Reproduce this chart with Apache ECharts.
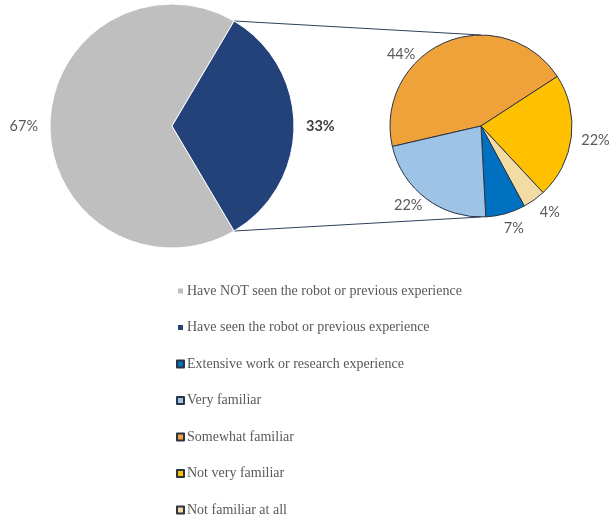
<!DOCTYPE html>
<html>
<head>
<meta charset="utf-8">
<script src="https://cdn.jsdelivr.net/npm/echarts@6/dist/echarts.min.js"></script>
<style>
  html, body { margin: 0; padding: 0; background: #fff; }
  #chart { width: 609px; height: 518px; }
</style>
</head>
<body>
<div id="chart"></div>
<script>
// main pie
const mainNames = ['Have NOT seen the robot or previous experience', 'Have seen the robot or previous experience'];
const mainValues = [67, 33];

// breakdown of "have seen"
const subNames = ['Somewhat familiar', 'Not very familiar', 'Not familiar at all', 'Extensive work or research experience', 'Very familiar'];
const subValues = [44, 22, 4, 7, 22];

const legendOrder = [
  'Have NOT seen the robot or previous experience',
  'Have seen the robot or previous experience',
  'Extensive work or research experience',
  'Very familiar',
  'Somewhat familiar',
  'Not very familiar',
  'Not familiar at all'
];

const colorMap = {
  'Have NOT seen the robot or previous experience': '#BFBFBF',
  'Have seen the robot or previous experience': '#24427A',
  'Extensive work or research experience': '#0070C0',
  'Very familiar': '#9DC3E6',
  'Somewhat familiar': '#EFA23A',
  'Not very familiar': '#FFC000',
  'Not familiar at all': '#F3DCA4'
};

// nudges to mimic excel's best-fit label placement
const labelNudge = {
  'Somewhat familiar': [-22, 19],
  'Not very familiar': [-3, 2],
  'Not familiar at all': [-4, 6],
  'Extensive work or research experience': [-9, 7],
  'Very familiar': [6, 0]
};

const main = { cx: 172, cy: 126, r: 122 };
const sub = { cx: 481, cy: 126, r: 91 };

// blue slice is centred on the right side
const halfAngle = mainValues[1] / (mainValues[0] + mainValues[1]) * 180;
const mainStart = 360 - halfAngle;

const chart = echarts.init(document.getElementById('chart'));

const rad = a => a * Math.PI / 180;
const topPt = [main.cx + main.r * Math.cos(rad(halfAngle)), main.cy - main.r * Math.sin(rad(halfAngle))];
const botPt = [main.cx + main.r * Math.cos(rad(halfAngle)), main.cy + main.r * Math.sin(rad(halfAngle))];

const labelFont = { fontFamily: 'Lato', fontSize: 14.5, color: '#595959' };

chart.setOption({
  animation: false,
  color: legendOrder.map(n => colorMap[n]),
  legend: {
    orient: 'vertical',
    left: 171,
    top: 279,
    height: 260,
    data: legendOrder,
    icon: 'rect',
    itemWidth: 7,
    itemHeight: 7,
    itemGap: 22.5,
    selectedMode: false,
    textStyle: {
      fontFamily: 'Liberation Serif',
      fontSize: 14,
      color: '#595959',
      lineHeight: 14,
      padding: [0, 0, 0, -2]
    }
  },
  graphic: [
    {
      type: 'line',
      shape: { x1: topPt[0], y1: topPt[1], x2: sub.cx, y2: sub.cy - sub.r },
      style: { stroke: '#2E3F5C', lineWidth: 1 }
    },
    {
      type: 'line',
      shape: { x1: botPt[0], y1: botPt[1], x2: sub.cx, y2: sub.cy + sub.r },
      style: { stroke: '#2E3F5C', lineWidth: 1 }
    }
  ],
  series: [
    {
      type: 'pie',
      center: [main.cx, main.cy],
      radius: main.r,
      startAngle: mainStart,
      clockwise: true,
      avoidLabelOverlap: false,
      silent: true,
      itemStyle: { borderColor: '#fff', borderWidth: 1 },
      label: Object.assign({ position: 'outside', formatter: '{c}%' }, labelFont),
      labelLine: { show: false, length: 7, length2: 0 },
      data: mainNames.map((n, i) => ({
        name: n,
        value: mainValues[i],
        itemStyle: { color: colorMap[n] },
        label: i === 1 ? { fontWeight: 'bold', color: '#404040' } : {}
      }))
    },
    {
      type: 'pie',
      center: [sub.cx, sub.cy],
      radius: sub.r,
      startAngle: 193,
      clockwise: true,
      avoidLabelOverlap: false,
      silent: true,
      itemStyle: { borderColor: '#2B3445', borderWidth: 1 },
      label: Object.assign({ position: 'outside', formatter: '{c}%' }, labelFont),
      labelLine: { show: false, length: 8, length2: 0 },
      data: subNames.map((n, i) => ({
        name: n,
        value: subValues[i],
        itemStyle: { color: colorMap[n] },
        label: labelNudge[n] ? { offset: labelNudge[n] } : {}
      }))
    }
  ]
});
</script>
</body>
</html>
